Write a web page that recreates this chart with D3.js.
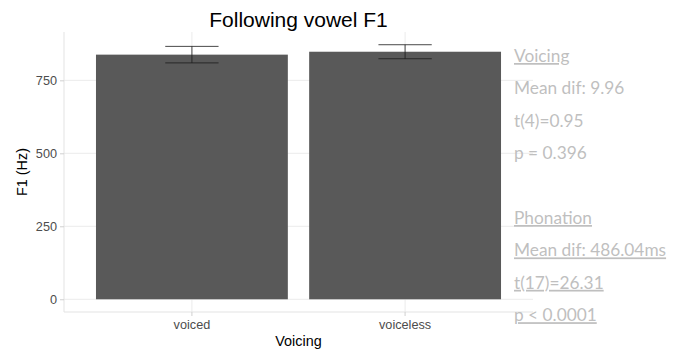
<!DOCTYPE html>
<html>
<head>
<meta charset="utf-8">
<script src="https://cdn.jsdelivr.net/npm/d3@7"></script>
<style>
  html, body { margin: 0; padding: 0; background: #fff; }
  svg { display: block; }
</style>
</head>
<body>
<svg id="chart" width="686" height="352"></svg>
<script>
// Mean F1 of the following vowel by voicing, with error bars
const categories = ["voiced", "voiceless"];
const meanF1 = [838.0, 847.96];
const errF1 = [28.3, 24.0];
const yTicks = [0, 250, 500, 750];

// Statistics printed to the right of the plot
const voicingStats = ["Voicing", "Mean dif: 9.96", "t(4)=0.95", "p = 0.396"];
const phonationStats = ["Phonation", "Mean dif: 486.04ms", "t(17)=26.31", "p < 0.0001"];

const svg = d3.select("#chart");
const panel = { left: 64, right: 533, top: 32, bottom: 312 };

const data = categories.map((c, i) => ({ cat: c, mean: meanF1[i], err: errF1[i] }));

const upper = d3.max(data, d => d.mean + d.err);
const pad = upper * 0.05;
const y = d3.scaleLinear().domain([-pad, upper + pad]).range([panel.bottom, panel.top]);

const x = d3.scaleBand()
  .domain(categories)
  .range([panel.left, panel.right])
  .paddingInner(0.1)
  .paddingOuter(0.15);

const gridColor = "#ebebeb";

// grid lines
svg.append("g").selectAll("line.h").data(yTicks).join("line")
  .attr("x1", panel.left).attr("x2", panel.right)
  .attr("y1", d => y(d)).attr("y2", d => y(d))
  .attr("stroke", gridColor).attr("stroke-width", 1);
svg.append("g").selectAll("line.v").data(categories).join("line")
  .attr("x1", d => x(d) + x.bandwidth() / 2).attr("x2", d => x(d) + x.bandwidth() / 2)
  .attr("y1", panel.top).attr("y2", panel.bottom)
  .attr("stroke", gridColor).attr("stroke-width", 1);

// left and bottom axis lines
svg.append("line").attr("x1", panel.left).attr("x2", panel.left)
  .attr("y1", panel.top).attr("y2", panel.bottom)
  .attr("stroke", "#e3e3e3").attr("stroke-width", 1);
svg.append("line").attr("x1", panel.left).attr("x2", panel.right)
  .attr("y1", panel.bottom).attr("y2", panel.bottom)
  .attr("stroke", "#e3e3e3").attr("stroke-width", 1);

// bars
svg.append("g").selectAll("rect").data(data).join("rect")
  .attr("x", d => x(d.cat))
  .attr("width", x.bandwidth())
  .attr("y", d => y(d.mean))
  .attr("height", d => y(0) - y(d.mean))
  .attr("fill", "#595959");

// error bars
const eb = svg.append("g").attr("stroke", "#1a1a1a").attr("stroke-width", 0.8);
const capHalf = x.step() * 0.125;
data.forEach(d => {
  const cx = x(d.cat) + x.bandwidth() / 2;
  eb.append("line").attr("x1", cx).attr("x2", cx)
    .attr("y1", y(d.mean + d.err)).attr("y2", y(d.mean - d.err));
  eb.append("line").attr("x1", cx - capHalf).attr("x2", cx + capHalf)
    .attr("y1", y(d.mean + d.err)).attr("y2", y(d.mean + d.err));
  eb.append("line").attr("x1", cx - capHalf).attr("x2", cx + capHalf)
    .attr("y1", y(d.mean - d.err)).attr("y2", y(d.mean - d.err));
});

// axes
const yAxis = svg.append("g")
  .attr("transform", `translate(${panel.left},0)`)
  .call(d3.axisLeft(y).tickValues(yTicks).tickSize(4).tickPadding(3).tickFormat(d3.format("d")));
const xAxis = svg.append("g")
  .attr("transform", `translate(0,${panel.bottom})`)
  .call(d3.axisBottom(x).tickSize(4).tickPadding(4));
[yAxis, xAxis].forEach(a => {
  a.select(".domain").remove();
  a.selectAll(".tick line").attr("stroke", "#d0d0d0");
  a.selectAll(".tick text")
    .attr("fill", "#4d4d4d")
    .style("font-family", "'Liberation Sans', Arial, sans-serif")
    .style("font-size", "12.7px");
});

// titles
svg.append("text")
  .attr("x", (panel.left + panel.right) / 2).attr("y", 27)
  .attr("text-anchor", "middle")
  .style("font-family", "'Liberation Sans', Arial, sans-serif")
  .style("font-size", "21px").attr("fill", "#000")
  .text("Following vowel F1");

svg.append("text")
  .attr("x", (panel.left + panel.right) / 2).attr("y", 346)
  .attr("text-anchor", "middle")
  .style("font-family", "'Liberation Sans', Arial, sans-serif")
  .style("font-size", "14.4px").attr("fill", "#000")
  .text("Voicing");

svg.append("text")
  .attr("transform", `translate(27,${(panel.top + panel.bottom) / 2}) rotate(-90)`)
  .attr("text-anchor", "middle")
  .style("font-family", "'Liberation Sans', Arial, sans-serif")
  .style("font-size", "14.4px").attr("fill", "#000")
  .text("F1 (Hz)");

// statistics text
const statLines = [
  ...voicingStats.map((t, i) => ({ t, under: i === 0 })),
  { t: "", under: false },
  ...phonationStats.map(t => ({ t, under: true }))
];
svg.append("g").selectAll("text").data(statLines).join("text")
  .attr("x", 514)
  .attr("y", (d, i) => 62 + i * 32.4)
  .style("font-family", "Lato, sans-serif")
  .style("font-size", "17.3px")
  .style("font-weight", "400")
  .style("text-decoration", d => d.under ? "underline" : "none")
  .attr("fill", "#bfbfbf")
  .text(d => d.t);
</script>
</body>
</html>
